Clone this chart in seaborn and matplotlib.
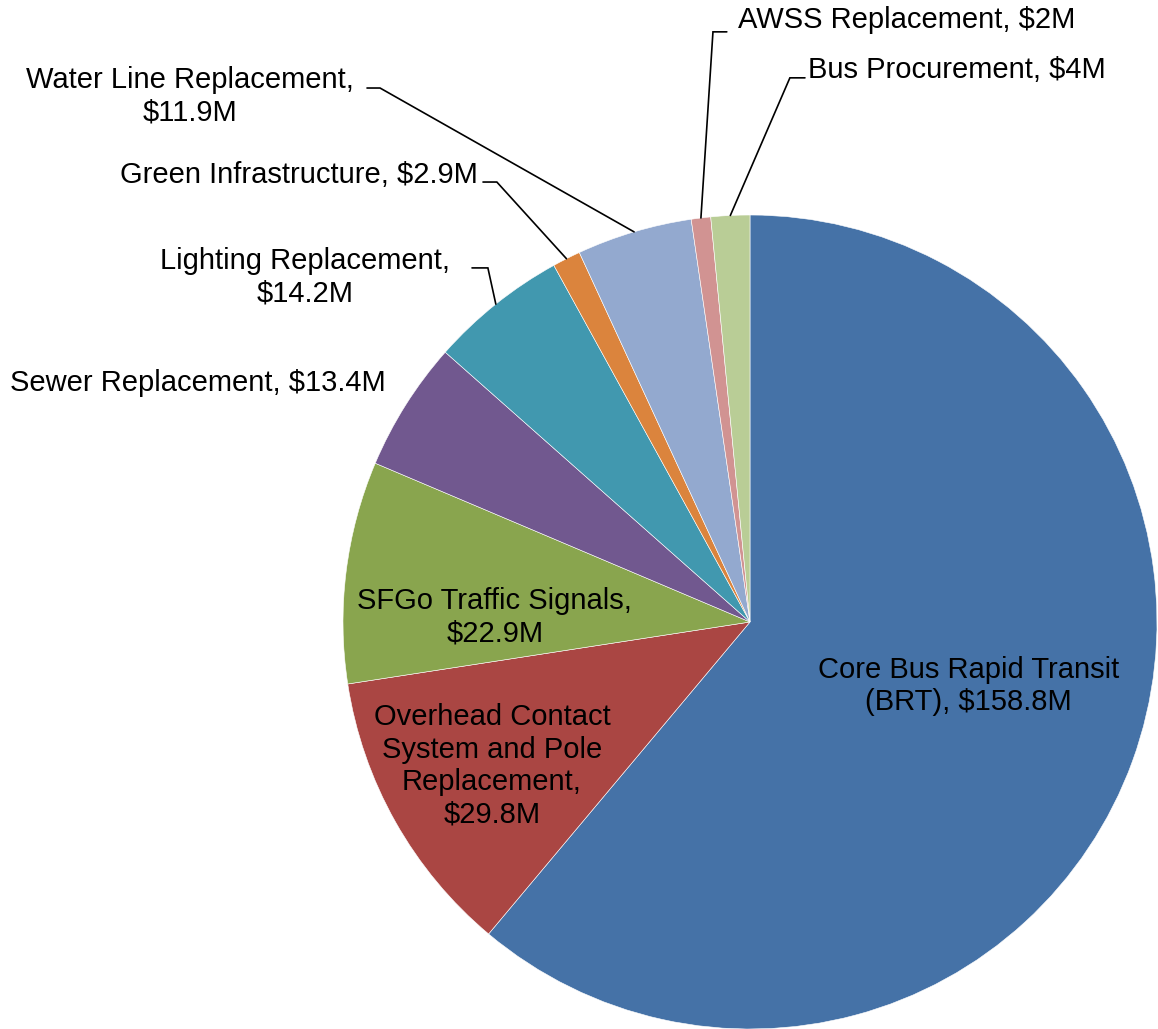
import numpy as np
import matplotlib.pyplot as plt
import seaborn as sns

# data, clockwise from 12 o'clock
projects = [
    "Core Bus Rapid Transit\n(BRT)",
    "Overhead Contact\nSystem and Pole\nReplacement",
    "SFGo Traffic Signals",
    "Sewer Replacement",
    "Lighting Replacement",
    "Green Infrastructure",
    "Water Line Replacement",
    "AWSS Replacement",
    "Bus Procurement",
]
cost_musd = [158.8, 29.8, 22.9, 13.4, 14.2, 2.9, 11.9, 2, 4]
value_labels = ["$158.8M", "$29.8M", "$22.9M", "$13.4M", "$14.2M",
                "$2.9M", "$11.9M", "$2M", "$4M"]
colors = ["#4572A7", "#AA4643", "#89A54E", "#71588F", "#4198AF",
          "#DB843D", "#93A9CF", "#D19392", "#B9CD96"]

sns.set_theme(style="white")
plt.rcParams["font.family"] = ["Liberation Sans", "DejaVu Sans"]

# label layout: (x, y, ha, text joiner, elbow (x0, x1, y) or None)
label_layout = [
    (0.536, -0.157, "center", ", ", None),
    (-0.634, -0.354, "center", ",\n", None),
    (-0.627, 0.012, "center", ",\n", None),
    (-1.818, 0.587, "left", ", ", None),
    (-1.093, 0.848, "center", ",\n", (-0.683, -0.644, 0.870)),
    (-0.668, 1.098, "right", ", ", (-0.656, -0.622, 1.081)),
    (-1.376, 1.292, "center", ",\n", (-0.941, -0.909, 1.312)),
    (-0.029, 1.479, "left", ", ", (-0.057, -0.091, 1.450)),
    (0.143, 1.356, "left", ", ", (0.135, 0.098, 1.337)),
]

fig = plt.figure(figsize=(11.58, 10.29), dpi=100)
ax = fig.add_axes([0, 0, 1, 1])
wedges, _ = ax.pie(cost_musd, colors=colors, startangle=90,
                   counterclock=False, radius=1.0,
                   wedgeprops=dict(edgecolor="white", linewidth=0.4))
ax.set_xlim(-750 / 407, (1158 - 750) / 407)
ax.set_ylim(-(1029 - 622) / 407, 622 / 407)
ax.set_aspect("auto")
ax.axis("off")

for wedge, name, val, (x, y, ha, sep, elbow) in zip(
        wedges, projects, value_labels, label_layout):
    ax.text(x, y, f"{name}{sep}{val}", ha=ha, va="center",
            multialignment="center", fontsize=21, color="black",
            linespacing=1.2)
    if elbow is not None:
        mid = np.deg2rad((wedge.theta1 + wedge.theta2) / 2)
        ax.plot([elbow[0], elbow[1], np.cos(mid)],
                [elbow[2], elbow[2], np.sin(mid)],
                color="black", lw=1.2, solid_joinstyle="miter")

fig.savefig("out.png", dpi=100)
plt.close(fig)
